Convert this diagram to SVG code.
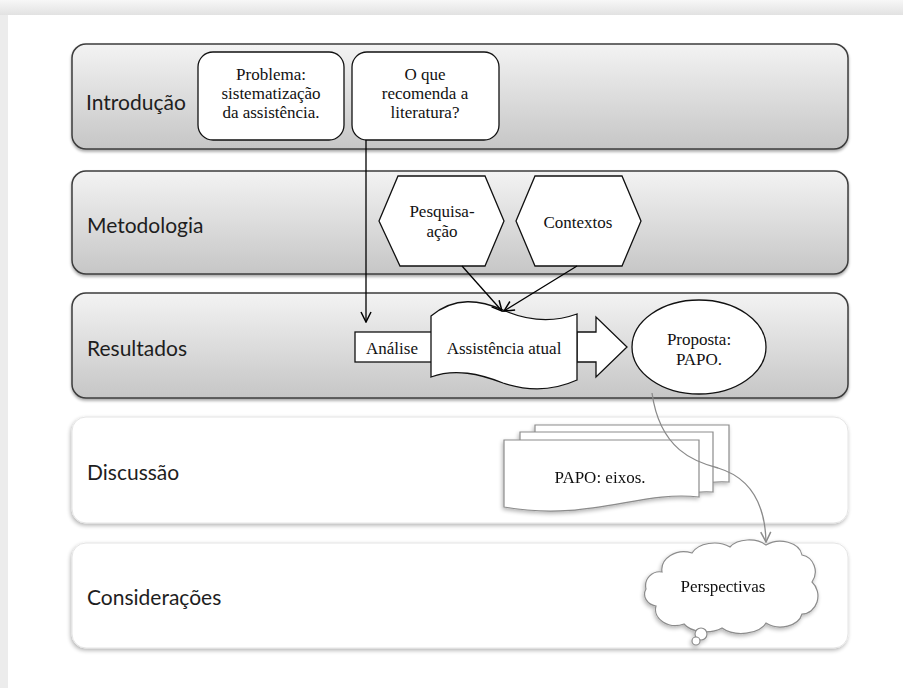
<svg xmlns="http://www.w3.org/2000/svg" width="903" height="688" viewBox="0 0 903 688">
<defs>
<linearGradient id="bandGrad" x1="0" y1="0" x2="0" y2="1">
<stop offset="0" stop-color="#f3f3f3"/>
<stop offset="1" stop-color="#c6c6c6"/>
</linearGradient>
<linearGradient id="topStrip" x1="0" y1="0" x2="0" y2="1">
<stop offset="0" stop-color="#f7f7f7"/>
<stop offset="1" stop-color="#e2e2e2"/>
</linearGradient>
<filter id="bandShadow" x="-5%" y="-10%" width="110%" height="125%">
<feGaussianBlur in="SourceAlpha" stdDeviation="1.5"/>
<feOffset dx="0" dy="2" result="b"/>
<feComponentTransfer><feFuncA type="linear" slope="0.35"/></feComponentTransfer>
<feMerge><feMergeNode/><feMergeNode in="SourceGraphic"/></feMerge>
</filter>
<filter id="softShadow" x="-5%" y="-10%" width="110%" height="125%">
<feGaussianBlur in="SourceAlpha" stdDeviation="2"/>
<feOffset dx="-1" dy="2" result="b"/>
<feComponentTransfer><feFuncA type="linear" slope="0.3"/></feComponentTransfer>
<feMerge><feMergeNode/><feMergeNode in="SourceGraphic"/></feMerge>
</filter>
<marker id="arrBlack" viewBox="0 0 12 12" refX="11" refY="6" markerWidth="12" markerHeight="12" markerUnits="userSpaceOnUse" orient="auto">
<path d="M1,1 L11,6 L1,11" fill="none" stroke="#000" stroke-width="1.5"/>
</marker>
<marker id="arrGray" viewBox="0 0 12 12" refX="11" refY="6" markerWidth="12" markerHeight="12" markerUnits="userSpaceOnUse" orient="auto">
<path d="M1,1 L11,6 L1,11" fill="none" stroke="#8a8a8a" stroke-width="1.5"/>
</marker>
</defs>
<style>
.band{fill:url(#bandGrad);stroke:#3c3c3c;stroke-width:1.5}
.wband{fill:#fff;stroke:#e4e4e4;stroke-width:1}
.lbl{font-family:Lato,"Open Sans","Liberation Sans",sans-serif;font-size:21px;fill:#1e1e1e}
.t{font-family:"Liberation Serif","Times New Roman",serif;font-size:17px;fill:#111;text-anchor:middle}
.shape{fill:#fff;stroke:#111;stroke-width:1.3}
.gshape{fill:#fff;stroke:#8c8c8c;stroke-width:1.2}
.conn{fill:none;stroke:#000;stroke-width:1.3}
.gconn{fill:none;stroke:#8a8a8a;stroke-width:1.3}
</style>

<!-- page background -->
<rect x="0" y="0" width="903" height="688" fill="#ececec"/>
<rect x="0" y="0" width="903" height="15" fill="url(#topStrip)"/>
<rect x="8" y="15" width="895" height="673" fill="#fff"/>

<!-- bands -->
<g id="band-introducao">
<rect class="band" x="72" y="44" width="776" height="105" rx="14" filter="url(#bandShadow)"/>
<text class="lbl" x="86" y="110">Introdução</text>
</g>
<g id="band-metodologia">
<rect class="band" x="72" y="171" width="776" height="103" rx="14" filter="url(#bandShadow)"/>
<text class="lbl" x="87" y="233">Metodologia</text>
</g>
<g id="band-resultados">
<rect class="band" x="72" y="293" width="776" height="105" rx="14" filter="url(#bandShadow)"/>
<text class="lbl" x="87" y="356">Resultados</text>
</g>
<g id="band-discussao">
<rect class="wband" x="72" y="417" width="776" height="106" rx="14" filter="url(#softShadow)"/>
<text class="lbl" x="87" y="480">Discussão</text>
</g>
<g id="band-consideracoes">
<rect class="wband" x="72" y="543" width="776" height="105" rx="14" filter="url(#softShadow)"/>
<text class="lbl" x="87" y="605">Considerações</text>
</g>

<!-- intro nodes -->
<g id="node-problema">
<rect class="shape" x="198" y="52" width="146" height="88" rx="15"/>
<text class="t" x="271" y="80">Problema:</text>
<text class="t" x="271" y="99">sistematização</text>
<text class="t" x="271" y="118">da assistência.</text>
</g>
<g id="node-literatura">
<rect class="shape" x="352" y="52" width="147" height="88" rx="15"/>
<text class="t" x="425" y="80">O que</text>
<text class="t" x="425" y="99">recomenda a</text>
<text class="t" x="425" y="118">literatura?</text>
</g>

<!-- metodologia nodes -->
<g id="node-pesquisa">
<polygon class="shape" points="379,221 398,176 485,176 504,221 485,266 400,266"/>
<text class="t" x="442" y="217">Pesquisa-</text>
<text class="t" x="442" y="237">ação</text>
</g>
<g id="node-contextos">
<polygon class="shape" points="516,221 535,176 622,176 641,221 622,266 535,266"/>
<text class="t" x="578" y="228">Contextos</text>
</g>

<!-- resultados nodes -->
<g id="node-analise">
<rect class="shape" x="355" y="332" width="77" height="30"/>
<text class="t" x="392" y="354">Análise</text>
</g>
<g id="node-seta">
<path class="shape" d="M577,332 H596 V317 L627,347 L596,377 V362 H577 Z"/>
</g>
<g id="node-assistencia">
<path class="shape" d="M431,316 C455,296 480,300 503,310 C530,322 555,322 577,314 V380 C555,390 530,392 503,383 C480,374 455,368 431,377 Z"/>
<text class="t" x="504" y="354">Assistência atual</text>
</g>
<g id="node-proposta">
<ellipse class="shape" cx="699" cy="347" rx="67" ry="47"/>
<text class="t" x="699" y="345">Proposta:</text>
<text class="t" x="699" y="365">PAPO.</text>
</g>

<!-- discussao node -->
<g id="node-papo-eixos" filter="url(#softShadow)">
<path class="gshape" d="M535,425 H729 V482 C715,481 705,483 700,484 L535,484 Z"/>
<path class="gshape" d="M520,432 H713 V492 C700,491 690,493 685,494 L520,494 Z"/>
<path class="gshape" d="M504,440 H699 V497 C640,490 590,522 504,507 Z"/>
<text class="t" x="600" y="483">PAPO: eixos.</text>
</g>

<!-- consideracoes node -->
<g id="node-perspectivas" filter="url(#softShadow)">
<path class="gshape" d="M662,572 A22,18 0 0 1 692,553 A24,16 0 0 1 730,547 A22,14 0 0 1 766,545 A22,16 0 0 1 802,555 A16,17 0 0 1 812,582 A16,18 0 0 1 802,614 A22,16 0 0 1 766,623 A26,16 0 0 1 722,628 A24,14 0 0 1 684,624 A20,16 0 0 1 656,606 A14,12 0 0 1 646,589 A14,14 0 0 1 662,572 Z"/>
<circle class="gshape" cx="701" cy="634" r="6"/>
<circle class="gshape" cx="696" cy="641" r="4"/>
<text class="t" x="723" y="592">Perspectivas</text>
</g>

<!-- connectors -->
<g id="connectors">
<path class="conn" d="M366,140 V322" marker-end="url(#arrBlack)"/>
<path class="conn" d="M462,266 L502,311" marker-end="url(#arrBlack)"/>
<path class="conn" d="M577,266 L504,311" marker-end="url(#arrBlack)"/>
<path class="gconn" d="M652,393 C660,450 695,462 718,468 C748,477 765,500 766,542" marker-end="url(#arrGray)"/>
</g>
</svg>
